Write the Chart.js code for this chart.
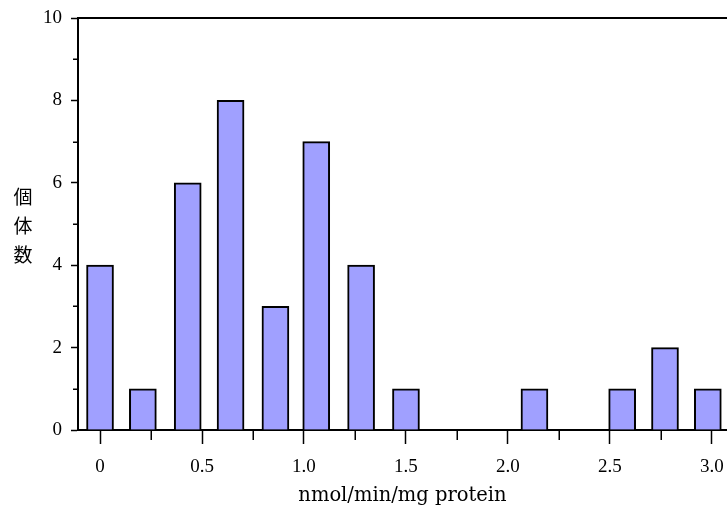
<!DOCTYPE html>
<html>
<head>
<meta charset="utf-8">
<script src="https://cdn.jsdelivr.net/npm/chart.js@4/dist/chart.umd.min.js"></script>
<style>
  html, body { margin: 0; padding: 0; background: #fff; overflow: hidden; }
  #wrap { width: 727px; height: 506px; position: relative; overflow: hidden; }
  #c { display: block; }
</style>
</head>
<body>
<div id="wrap"><canvas id="c"></canvas></div>
<script>
// ---- data ----
const binCenters = [0, 0.21, 0.43, 0.64, 0.86, 1.06, 1.28, 1.50, 1.71, 1.92, 2.13, 2.34, 2.56, 2.77, 2.98];
const counts     = [4, 1, 6, 8, 3, 7, 4, 1, 0, 0, 1, 0, 1, 2, 1];
const xTickValues = [0, 0.5, 1.0, 1.5, 2.0, 2.5, 3.0];
const xTickLabels = ['0', '0.5', '1.0', '1.5', '2.0', '2.5', '3.0'];
const xMinorTicks = [0.25, 0.75, 1.25, 1.75, 2.25, 2.75];
const yTickValues = [0, 2, 4, 6, 8, 10];
const yTickLabels = ['0', '2', '4', '6', '8', '10'];
const yMinorTicks = [1, 3, 5, 7, 9];
const xTitle = 'nmol/min/mg protein';
const yTitle = '個体数';

const tickFont = { family: "'Liberation Serif', 'DejaVu Serif', serif", size: 19 };

const framePlugin = {
  id: 'frame',
  afterDraw(chart) {
    const ctx = chart.ctx;
    const xs = chart.scales.x, ys = chart.scales.y;
    const area = chart.chartArea;
    ctx.save();
    ctx.strokeStyle = '#000';
    // top frame line
    ctx.lineWidth = 2;
    ctx.beginPath();
    ctx.moveTo(area.left - 1, area.top);
    ctx.lineTo(chart.width, area.top);
    ctx.stroke();
    // minor ticks
    ctx.lineWidth = 1.5;
    ctx.beginPath();
    xMinorTicks.forEach(v => {
      const px = Math.round(xs.getPixelForValue(v)) + 0.25;
      ctx.moveTo(px, area.bottom);
      ctx.lineTo(px, area.bottom + 10);
    });
    yMinorTicks.forEach(v => {
      const py = Math.round(ys.getPixelForValue(v)) + 0.25;
      ctx.moveTo(area.left - 5, py);
      ctx.lineTo(area.left, py);
    });
    ctx.stroke();
    // vertical y-axis title
    ctx.fillStyle = '#000';
    ctx.font = "19px 'Noto Sans CJK JP', sans-serif";
    ctx.textAlign = 'center';
    ctx.textBaseline = 'middle';
    const chars = Array.from(yTitle);
    const cy = 226;
    const step = 29;
    chars.forEach((ch, i) => {
      ctx.fillText(ch, 23, cy + (i - (chars.length - 1) / 2) * step);
    });
    ctx.restore();
  }
};

new Chart(document.getElementById('c'), {
  type: 'bar',
  data: {
    datasets: [{
      data: binCenters.map((x, i) => ({ x: x, y: counts[i] })),
      backgroundColor: '#A0A0FF',
      borderColor: '#000',
      borderWidth: 2,
      borderSkipped: 'start',
      barThickness: 27
    }]
  },
  options: {
    responsive: true,
    maintainAspectRatio: false,
    animation: false,
    devicePixelRatio: 1,
    layout: { padding: { top: 18, left: 0, right: 0, bottom: 0 } },
    plugins: { legend: { display: false }, tooltip: { enabled: false } },
    scales: {
      x: {
        type: 'linear',
        position: 'bottom',
        min: -0.108,
        max: 3.074,
        offset: false,
        afterFit(s) { s.height = 76; s.paddingLeft = 0; s.paddingRight = 0; },
        afterBuildTicks(s) { s.ticks = xTickValues.map(v => ({ value: v })); },
        grid: { drawOnChartArea: false, offset: false, tickLength: 14, tickWidth: 1.5, tickColor: '#000' },
        border: { color: '#000', width: 2 },
        ticks: {
          autoSkip: false, maxRotation: 0, padding: 12, color: '#000', font: tickFont,
          callback(value) { const i = xTickValues.indexOf(value); return i >= 0 ? xTickLabels[i] : ''; }
        },
        title: {
          display: true, text: xTitle, color: '#000',
          font: { family: "'DejaVu Serif', serif", size: 19.5, lineHeight: 1 },
          padding: { top: 0, bottom: 0 }
        }
      },
      y: {
        min: 0,
        max: 10,
        afterFit(s) { s.width = 78; s.paddingTop = 0; s.paddingBottom = 0; },
        afterBuildTicks(s) { s.ticks = yTickValues.map(v => ({ value: v })); },
        grid: { drawOnChartArea: false, tickLength: 7, tickWidth: 1.5, tickColor: '#000' },
        border: { color: '#000', width: 2 },
        ticks: {
          padding: 9, color: '#000', font: tickFont,
          callback(value) { const i = yTickValues.indexOf(value); return i >= 0 ? yTickLabels[i] : ''; }
        }
      }
    }
  },
  plugins: [framePlugin]
});
</script>
</body>
</html>
